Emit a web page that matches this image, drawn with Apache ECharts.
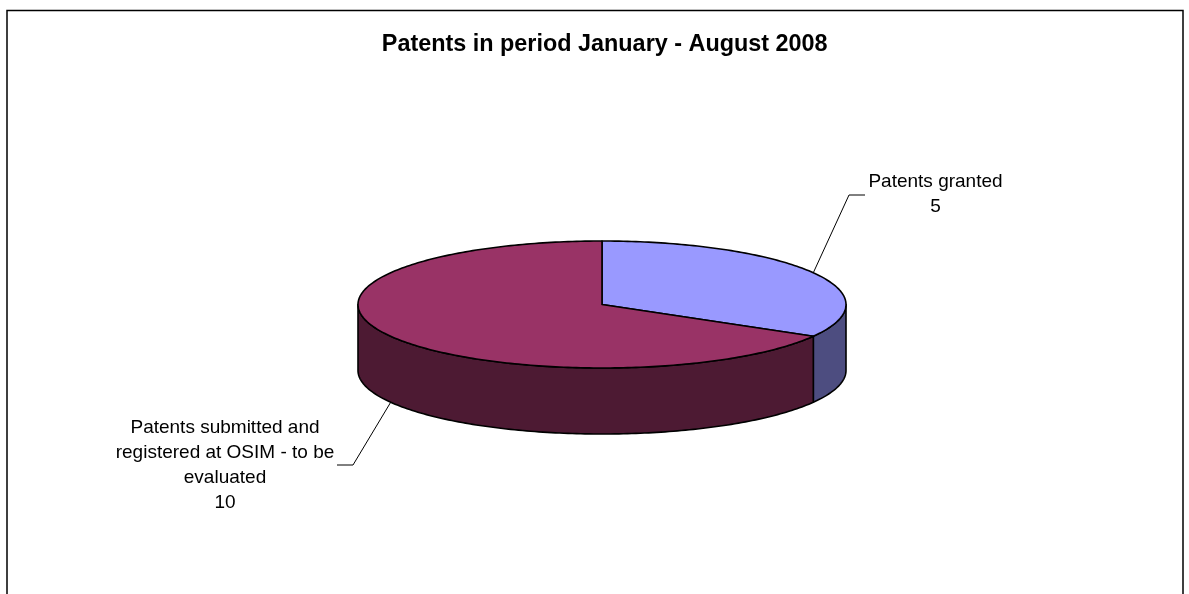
<!DOCTYPE html>
<html>
<head>
<meta charset="utf-8">
<style>html,body{margin:0;padding:0;background:#fff}#c{width:1189px;height:594px}</style>
<script src="https://cdn.jsdelivr.net/npm/echarts@6/dist/echarts.min.js"></script>
</head>
<body>
<div id="c"></div>
<script>
const titleText = 'Patents in period January - August 2008';
const categories = ['Patents granted', 'Patents submitted and\nregistered at OSIM - to be\nevaluated'];
const values = [5, 10];
const topColors = ['#9999FF', '#993366'];
const sideColors = ['#4D4D80', '#4D1A33'];

const DEPTH = 66 / 63.5;          // wall height in y-axis units (top ellipse half-height = 1)
const FONT = '"Liberation Sans", Arial, sans-serif';
const labelLayout = [
  { elbow: [849, 195], end: [865, 195], text: [935.5, 194.5] },
  { elbow: [353, 465], end: [337, 465], text: [225, 465.2] }
];
const total = values.reduce((a, b) => a + b, 0);

function renderSlice(params, api) {
  const i = params.dataIndex;
  const before = values.slice(0, i).reduce((a, b) => a + b, 0);
  const a0 = before / total * 360;
  const a1 = (before + api.value(0)) / total * 360;
  const P = (deg, drop) => {
    const r = deg * Math.PI / 180;
    return api.coord([Math.sin(r), Math.cos(r) - (drop || 0)]);
  };
  const line = { stroke: '#000', lineWidth: 1.6, lineJoin: 'round' };
  const children = [];

  // visible wall: the part of the arc on the front half (90..270 degrees)
  const s0 = Math.max(a0, 90), s1 = Math.min(a1, 270);
  if (s1 > s0) {
    const pts = [];
    for (let d = s0; d <= s1 + 1e-6; d += 1) pts.push(P(d, 0));
    for (let d = s1; d >= s0 - 1e-6; d -= 1) pts.push(P(d, DEPTH));
    children.push({ type: 'polygon', shape: { points: pts },
      style: Object.assign({ fill: sideColors[i] }, line) });
  }
  // top face
  const top = [api.coord([0, 0])];
  for (let d = a0; d <= a1 + 1e-6; d += 1) top.push(P(d, 0));
  children.push({ type: 'polygon', shape: { points: top },
    style: Object.assign({ fill: topColors[i] }, line) });

  // leader line + label
  const mid = (a0 + a1) / 2;
  const anchor = P(mid, mid > 90 && mid < 270 ? DEPTH : 0);
  const L = labelLayout[i];
  children.push({ type: 'polyline', shape: { points: [anchor, L.elbow, L.end] },
    style: { stroke: '#000', lineWidth: 1, fill: null } });
  children.push({ type: 'text', style: {
    x: L.text[0], y: L.text[1], text: categories[i] + '\n' + api.value(0),
    fill: '#000', font: '19px ' + FONT, align: 'center', verticalAlign: 'middle', lineHeight: 25
  } });
  return { type: 'group', children };
}

const chart = echarts.init(document.getElementById('c'), null, { renderer: 'canvas' });
chart.setOption({
  animation: false,
  backgroundColor: '#fff',
  title: {
    text: titleText, left: 604.7, top: 45, padding: 0, textAlign: 'center', textVerticalAlign: 'middle',
    textStyle: { fontFamily: FONT, fontWeight: 'bold', fontSize: 23.4, color: '#000' }
  },
  graphic: [{
    type: 'polyline', silent: true,
    shape: { points: [[7, 600], [7, 10.5], [1183, 10.5], [1183, 600]] },
    style: { stroke: '#000', lineWidth: 1.5, fill: null }
  }],
  grid: { left: 358, width: 488, top: 241, height: 127 },
  xAxis: { type: 'value', min: -1, max: 1, show: false },
  yAxis: { type: 'value', min: -1, max: 1, show: false },
  series: [{
    type: 'custom', coordinateSystem: 'cartesian2d', clip: false, silent: true,
    encode: { x: 0 },
    data: values.map((v, i) => ({ name: categories[i], value: [v] })),
    renderItem: renderSlice
  }]
});
</script>
</body>
</html>
